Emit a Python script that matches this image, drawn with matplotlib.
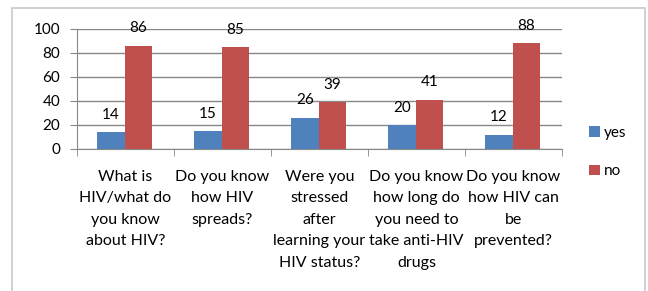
import matplotlib
matplotlib.use("Agg")
import matplotlib.pyplot as plt
from matplotlib.patches import Rectangle
import numpy as np

categories = ["What is\nHIV/what do\nyou know\nabout HIV?",
              "Do you know\nhow HIV\nspreads?",
              "Were you\nstressed\nafter\nlearning your\nHIV status?",
              "Do you know\nhow long do\nyou need to\ntake anti-HIV\ndrugs",
              "Do you know\nhow HIV can\nbe\nprevented?"]
yes_vals = [14, 15, 26, 20, 12]
no_vals = [86, 85, 39, 41, 88]
yticks = [0, 20, 40, 60, 80, 100]

BLUE = "#4F81BD"
RED = "#C0504D"
GRID = "#888888"

plt.rcParams['font.family'] = ['Lato', 'DejaVu Sans']
fs = 11

fig = plt.figure(figsize=(6.48, 2.91), dpi=100)
fig.patch.set_facecolor("white")
fig.patches.append(Rectangle((12/648, -0.1), (645-12)/648, 1.1 - 8/291,
                             transform=fig.transFigure, fill=False,
                             edgecolor="#c8c8c8", linewidth=1.2))

ax = fig.add_axes([77/648, 1-149/291, 485/648, 120/291])
x = np.arange(len(categories))
w = 0.285
b1 = ax.bar(x - 0.149, yes_vals, w, color=BLUE, zorder=3, label="yes")
b2 = ax.bar(x + 0.134, no_vals, w, color=RED, zorder=3, label="no")

for bars, vals in ((b1, yes_vals), (b2, no_vals)):
    for r, v in zip(bars, vals):
        ax.annotate(str(v), (r.get_x() + r.get_width()/2, v),
                    xytext=(0, 12.5), textcoords="offset points",
                    ha="center", va="center", fontsize=fs, color="black", zorder=4)

ax.set_xlim(-0.5, len(categories) - 0.5)
ax.set_ylim(0, 100)
ax.set_yticks(yticks)
ax.set_yticklabels([str(t) for t in yticks], fontsize=fs)
ax.yaxis.grid(True, color=GRID, linewidth=1.0, zorder=0)
ax.set_axisbelow(True)

ax.set_xticks(x)
ax.set_xticklabels(categories, fontsize=11.5, linespacing=1.68)
ax.set_xticks(np.arange(-0.5, len(categories)), minor=True)
ax.tick_params(axis="x", which="major", length=0, pad=15)
ax.tick_params(axis="x", which="minor", length=5, color=GRID, direction="out")
ax.tick_params(axis="y", length=5, color=GRID, pad=7)

for s in ("top", "right"):
    ax.spines[s].set_visible(False)
ax.spines["left"].set_color(GRID)
ax.spines["bottom"].set_color(GRID)

leg = fig.legend(handles=[b1, b2], labels=["yes", "no"],
                 loc="upper left", bbox_to_anchor=(589/648, 1-126/291),
                 frameon=False, fontsize=fs, handlelength=0.7, handleheight=0.7,
                 handletextpad=0.3, labelspacing=1.6, borderpad=0, borderaxespad=0)

fig.savefig("out.png", dpi=100)
